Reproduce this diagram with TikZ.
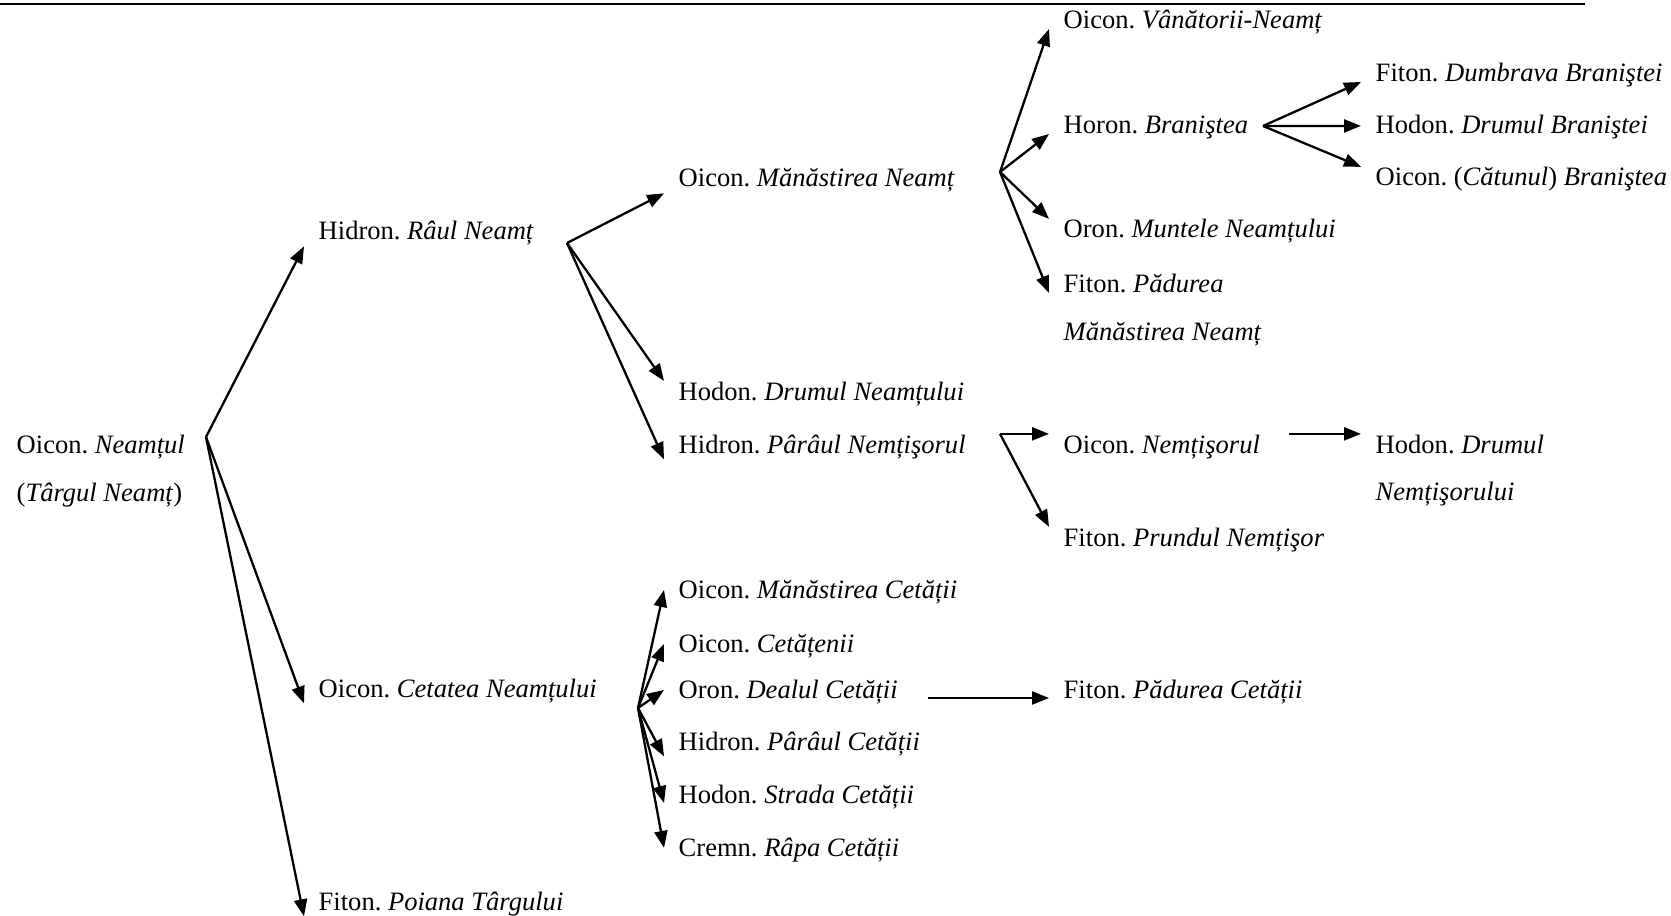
\documentclass[tikz,border=0pt]{standalone}
\usepackage{fontspec}
\setmainfont{Liberation Serif}
\usetikzlibrary{arrows.meta}
\newcommand{\twolines}[2]{\vtop{\hbox{#1}\hbox{#2}}}

\begin{document}
\begin{tikzpicture}[x=0.01cm,y=-0.01cm,
   lbl/.style={anchor=base west,inner xsep=0.14cm,inner ysep=0pt,font=\fontsize{7.55}{13.4}\selectfont\frenchspacing},
   arr/.style={-{Triangle[length=0.17cm,width=0.13cm]},line width=0.65pt}]
   \useasboundingbox (0,0) rectangle (1671,916);
   \draw[line width=0.75pt] (0,4) -- (1585,4);

   \node[lbl] (root) at (2,454) {\twolines{Oicon. \textit{Neamțul}}{(\textit{Târgul Neamț})}};
   \node[lbl] (raul) at (304,240) {Hidron. \textit{Râul Neamț}};
   \node[lbl] (cetatea) at (304,697) {Oicon. \textit{Cetatea Neamțului}};
   \node[lbl] (poiana) at (304,910) {Fiton. \textit{Poiana Târgului}};

   \node[lbl] (manastN) at (664,187) {Oicon. \textit{Mănăstirea Neamț}};
   \node[lbl] (drumulN) at (664,400) {Hodon. \textit{Drumul Neamțului}};
   \node[lbl] (parauN) at (664,453) {Hidron. \textit{Pârâul Nemțişorul}};
   \node[lbl] (manastC) at (664,598) {Oicon. \textit{Mănăstirea Cetății}};
   \node[lbl] (cetatenii) at (664,652) {Oicon. \textit{Cetățenii}};
   \node[lbl] (dealul) at (664,698) {Oron. \textit{Dealul Cetății}};
   \node[lbl] (parauC) at (664,750) {Hidron. \textit{Pârâul Cetății}};
   \node[lbl] (strada) at (664,803) {Hodon. \textit{Strada Cetății}};
   \node[lbl] (rapa) at (664,856) {Cremn. \textit{Râpa Cetății}};

   \node[lbl] (vanatori) at (1049,29) {Oicon. \textit{Vânătorii-Neamț}};
   \node[lbl] (horon) at (1049,134) {Horon. \textit{Braniştea}};
   \node[lbl] (muntele) at (1049,238) {Oron. \textit{Muntele Neamțului}};
   \node[lbl] (padurea) at (1049,293) {\twolines{Fiton. \textit{Pădurea}}{\textit{Mănăstirea Neamț}}};
   \node[lbl] (nemtisorul) at (1049,453) {Oicon. \textit{Nemțişorul}};
   \node[lbl] (prundul) at (1049,546) {Fiton. \textit{Prundul Nemțişor}};
   \node[lbl] (padureaC) at (1049,698) {Fiton. \textit{Pădurea Cetății}};

   \node[lbl] (dumbrava) at (1361,82) {Fiton. \textit{Dumbrava Braniştei}};
   \node[lbl] (drumulB) at (1361,134) {Hodon. \textit{Drumul Braniştei}};
   \node[lbl] (catunul) at (1361,186) {Oicon. (\textit{Cătunul}) \textit{Braniştea}};
   \node[lbl] (drumulNm) at (1361,453) {\twolines{Hodon. \textit{Drumul}}{\textit{Nemțişorului}}};

   \coordinate (bRoot) at (206,437);
   \coordinate (bRaul) at (567,243);
   \coordinate (bManast) at (1000,172);
   \coordinate (bHoron) at (1263,126);
   \path (nemtisorul.north west) ++(-49,0) coordinate (bParau);
   \coordinate (bCetatea) at (638,708);

   \foreach \t/\a in {raul/south west,cetatea/south west,poiana/south west}
      \draw[arr] (bRoot) -- (\t.\a);
   \foreach \t/\a in {manastN/south west,drumulN/north west,parauN/south west}
      \draw[arr] (bRaul) -- (\t.\a);
   \foreach \t/\a in {vanatori/base west,horon/base west,muntele/north west,padurea/base west}
      \draw[arr] (bManast) -- (\t.\a);
   \foreach \t/\a in {dumbrava/base west,drumulB/mid west,catunul/north west}
      \draw[arr] (bHoron) -- (\t.\a);
   \foreach \t/\a in {nemtisorul/north west,prundul/north west}
      \draw[arr] (bParau) -- (\t.\a);
   \foreach \t/\a in {manastC/mid west,cetatenii/mid west,dealul/mid west,parauC/south west,strada/base west,rapa/mid west}
      \draw[arr] (bCetatea) -- (\t.\a);
   \draw[arr,shorten <=0.14cm] (nemtisorul.north east) -- (drumulNm.north west);
   \draw[arr,shorten <=0.16cm] (dealul.base east) -- (padureaC.base west);
\end{tikzpicture}
\end{document}
